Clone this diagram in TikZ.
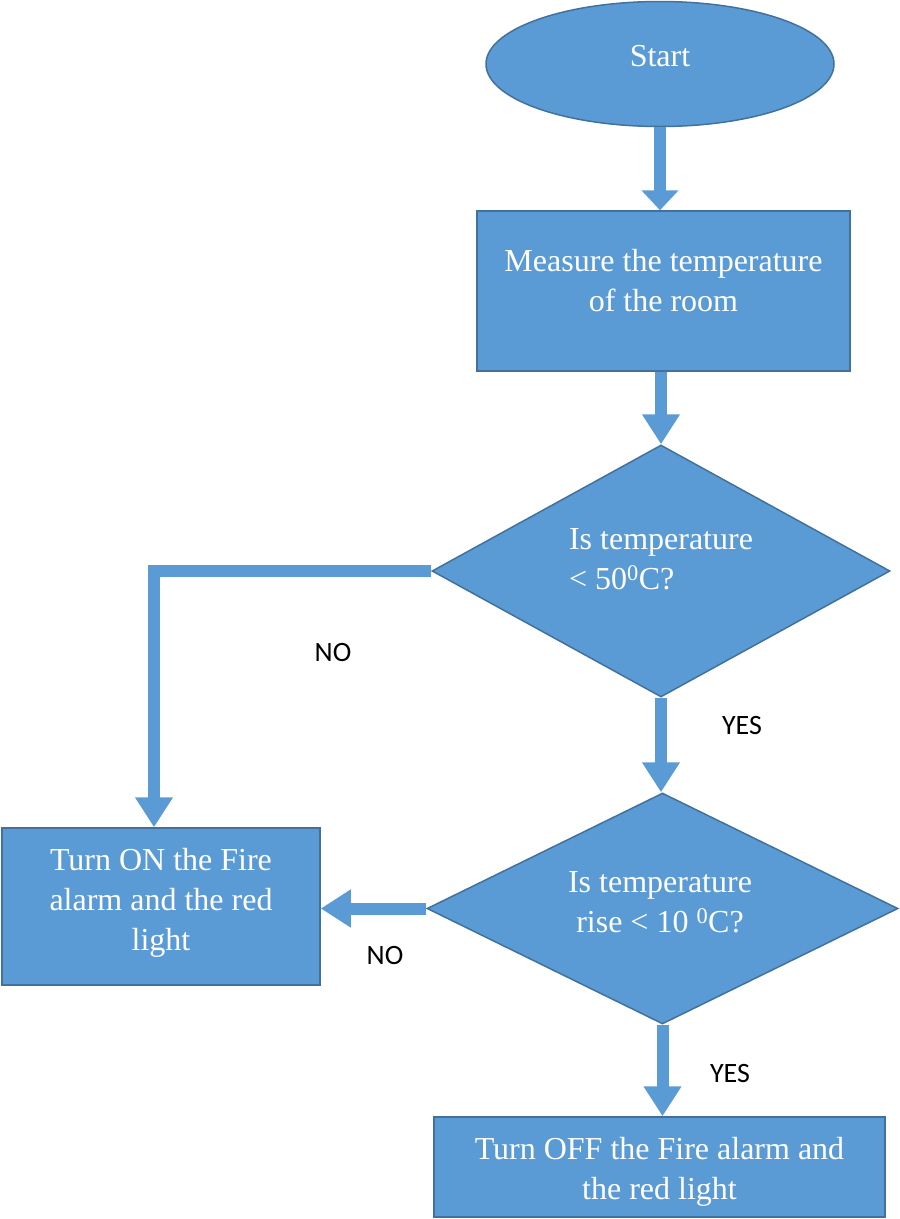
\documentclass[tikz,border=0pt]{standalone}
\usepackage{fontspec}
\setmainfont{Liberation Serif}
\newfontfamily\labelfont{Carlito}
\usetikzlibrary{shapes.geometric,arrows.meta}
\definecolor{boxblue}{HTML}{5B9BD5}
\definecolor{edgeblue}{HTML}{41719C}

\begin{document}
\begin{tikzpicture}[x=1pt,y=-1pt,
  shapebase/.style={draw=edgeblue, fill=boxblue, line width=1.5pt, inner sep=0pt},
  procbox/.style={shapebase, rectangle},
  decision/.style={shapebase, diamond},
  terminal/.style={shapebase, ellipse},
  intext/.style={text=white, font=\fontsize{32}{40}\selectfont, align=center, inner sep=0pt},
  flow/.style={draw=boxblue, line width=12pt, -{Triangle[width=36pt,length=30pt]}},
  answer/.style={font=\labelfont\fontsize{28}{34}\selectfont, text=black, inner sep=0pt}
]
\useasboundingbox (0,0) rectangle (900,1219);

% shapes
\node[terminal, minimum width=348pt, minimum height=125pt] (start) at (660,64) {};
\node[intext] (starttext) at (660,56) {Start};

\node[procbox, minimum width=373pt, minimum height=160pt] (measure) at (663.5,291) {};
\node[intext] (measuretext) at (663.5,281) {Measure the temperature\\of the room};

\node[decision, minimum width=458pt, minimum height=252pt] (q1) at (661,571) {};
\node[intext, align=left] (q1text) at (661,559) {Is temperature\\< 50\textsuperscript{0}C?};

\node[decision, minimum width=471pt, minimum height=231pt] (q2) at (662.5,908.5) {};
\node[intext] (q2text) at (660,902) {Is temperature\\rise < 10 \textsuperscript{0}C?};

\node[procbox, minimum width=318pt, minimum height=157pt] (on) at (161,906.5) {};
\node[intext] (ontext) at (161,902.5) {Turn ON the Fire\\alarm and the red\\light};

\node[procbox, minimum width=451pt, minimum height=100pt] (off) at (659.5,1167) {};
\node[intext] (offtext) at (659.5,1172) {Turn OFF the Fire alarm and\\the red light};

% connectors
\draw[flow, -{Triangle[width=36pt,length=20pt]}] (start.south) -- (start.south |- measure.north);
\draw[flow] (q1.north |- measure.south) -- (q1.north);
\coordinate (nobend) at (154,571);
\draw[flow] (q1.west) -- (nobend) -- (nobend |- on.north);
\draw[flow] (q1.south) -- (q1.south |- q2.north);
\draw[flow] (q2.west) -- (q2.west -| on.east);
\draw[flow] (q2.south) -- (q2.south |- off.north);

% branch labels
\node[answer] (no1) at (333,653) {NO};
\node[answer] (yes1) at (742,725) {YES};
\node[answer] (no2) at (385,955) {NO};
\node[answer] (yes2) at (730,1073) {YES};
\end{tikzpicture}
\end{document}
